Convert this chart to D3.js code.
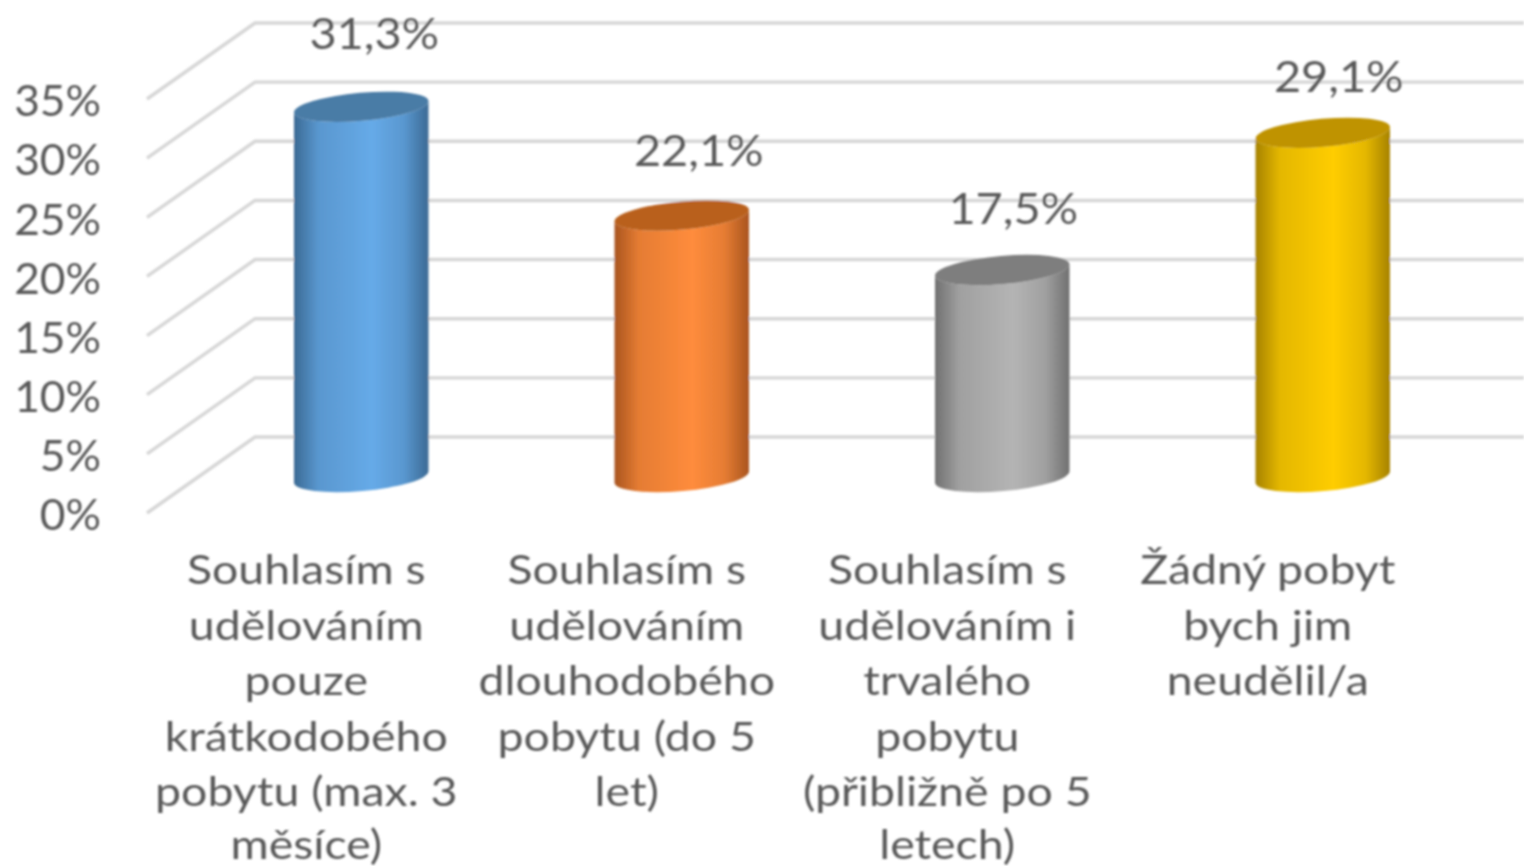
<!DOCTYPE html>
<html>
<head>
<meta charset="utf-8">
<script src="https://d3js.org/d3.v7.min.js"></script>
<style>
  html, body { margin: 0; padding: 0; background: #fff; overflow: hidden; }
  text { font-family: Lato, "Open Sans", sans-serif; fill: #595959; }
</style>
</head>
<body>
<div id="graph1"></div>
<script>
var categories = ["pouze", "dlouhodobeho", "trvaleho", "zadny"]
var values = [31.3, 22.1, 17.5, 29.1]
var valueLabels = ["31,3%", "22,1%", "17,5%", "29,1%"]
var yTicks = [0, 5, 10, 15, 20, 25, 30, 35]
var categoryLines = [
  ["Souhlasím s", "udělováním", "pouze", "krátkodobého", "pobytu (max. 3", "měsíce)"],
  ["Souhlasím s", "udělováním", "dlouhodobého", "pobytu (do 5", "let)"],
  ["Souhlasím s", "udělováním i", "trvalého", "pobytu", "(přibližně po 5", "letech)"],
  ["Žádný pobyt", "bych jim", "neudělil/a"]
]
var barEdge = ["#3b6a94", "#a9551f", "#707070", "#a68200"]
var barMid = ["#66aae8", "#ff8c3c", "#b4b4b4", "#ffcd05"]
var barTop = ["#4a7ba6", "#b9601f", "#7e7e7e", "#bf9300"]

// labels do not sit at a constant distance over the bars in the original
var labelShiftX = [13, 17, 11, 16]
var labelShiftY = [-74, -66, -62, -57]

var width = 1524, height = 866
var depth = {x: -108, y: 76}
var barShift = 40
var rx = 67.5, ry = 14, tilt = -5

var svg = d3.select("#graph1").append("svg")
  .attr("width", width)
  .attr("height", height)
  .style("display", "block")

var defs = svg.append("defs")
defs.append("filter").attr("id", "soft")
  .attr("filterUnits", "userSpaceOnUse")
  .attr("x", 0).attr("y", 0).attr("width", width).attr("height", height)
  .append("feGaussianBlur").attr("stdDeviation", 0.9)

var root = svg.append("g").attr("filter", "url(#soft)")

var y = d3.scaleLinear().domain([0, 35]).range([437, 23])
var x = d3.scaleBand().domain(categories).range([201, 1483])

// gridlines: back wall plus side wall
root.selectAll(".grid")
  .data(yTicks)
  .enter()
  .append("path")
    .attr("class", "grid")
    .attr("d", function(d) {
      return d3.line()([[255 + depth.x, y(d) + depth.y], [255, y(d)], [width, y(d)]])
    })
    .style("fill", "none")
    .style("stroke", "#d6d6d6")
    .style("stroke-width", 3.4)

// y axis sits on the front edge of the side wall
var yFront = y.copy().range([437 + depth.y, 23 + depth.y])
var axis = root.append("g")
  .attr("transform", "translate(101,3)")
  .call(d3.axisLeft(yFront).tickValues(yTicks).tickSize(0).tickPadding(0)
    .tickFormat(function(d) { return d + "%" }))
axis.select(".domain").remove()
axis.selectAll("text")
  .attr("transform", "scale(1.03,1)")
  .style("font-size", "43px")
  .style("font-family", "Lato")
  .style("fill", "#595959")

categories.forEach(function(c, i) {
  var g = defs.append("linearGradient").attr("id", "bar" + i)
    .attr("x1", "0%").attr("x2", "100%").attr("y1", "0%").attr("y2", "0%")
  g.append("stop").attr("offset", "0%").attr("stop-color", barEdge[i])
  g.append("stop").attr("offset", "18%").attr("stop-color", d3.interpolateRgb(barEdge[i], barMid[i])(0.7))
  g.append("stop").attr("offset", "58%").attr("stop-color", barMid[i])
  g.append("stop").attr("offset", "82%").attr("stop-color", d3.interpolateRgb(barEdge[i], barMid[i])(0.7))
  g.append("stop").attr("offset", "100%").attr("stop-color", barEdge[i])
})

var data = categories.map(function(c, i) { return {key: c, value: values[i], i: i} })

function corner(cx, cy, side) {
  var a = tilt * Math.PI / 180
  return [cx + side * rx * Math.cos(a), cy + side * rx * Math.sin(a)]
}

function body(d) {
  var cx = x(d.key) + x.bandwidth() / 2
  var top = y(d.value) + barShift, base = y(0) + barShift
  var tl = corner(cx, top, -1), tr = corner(cx, top, 1)
  var bl = corner(cx, base, -1), br = corner(cx, base, 1)
  var arc = "A" + rx + "," + ry + " " + tilt + " 0 "
  return "M" + tl + "L" + bl + arc + "0 " + br + "L" + tr + arc + "1 " + tl + "Z"
}

var bars = root.selectAll(".bar")
  .data(data)
  .enter()
  .append("g")
    .attr("class", "bar")

bars.append("path")
  .attr("d", body)
  .style("fill", function(d) { return "url(#bar" + d.i + ")" })

bars.append("ellipse")
  .attr("rx", rx)
  .attr("ry", ry)
  .attr("transform", function(d) {
    return "translate(" + (x(d.key) + x.bandwidth() / 2) + "," + (y(d.value) + barShift) + ") rotate(" + tilt + ")"
  })
  .style("fill", function(d) { return barTop[d.i] })

// value labels
root.selectAll(".value")
  .data(data)
  .enter()
  .append("text")
    .attr("class", "value")
    .attr("transform", function(d) {
      return "translate(" + (x(d.key) + x.bandwidth() / 2 + labelShiftX[d.i]) + "," +
        (y(d.value) + barShift + labelShiftY[d.i]) + ") scale(1.09,1)"
    })
    .attr("text-anchor", "middle")
    .attr("dominant-baseline", "central")
    .style("font-size", "43px")
    .text(function(d) { return valueLabels[d.i] })

// category labels, wrapped as in the original, wider than the font draws them
var labelGroups = root.selectAll(".cat")
  .data(data)
  .enter()
  .append("text")
    .attr("class", "cat")
    .attr("text-anchor", "middle")
    .attr("transform", function(d) {
      return "translate(" + (x(d.key) + x.bandwidth() / 2 - 55) + ",0) scale(1.147,1)"
    })
    .style("font-size", "40.5px")

labelGroups.selectAll("tspan")
  .data(function(d) {
    return categoryLines[d.i].map(function(t, k) { return {t: t, k: k} })
  })
  .enter()
  .append("tspan")
    .attr("x", 0)
    .attr("y", function(d) { return Math.min(584 + d.k * 55.6, 859) })  // last line is squeezed in at the bottom edge
    .text(function(d) { return d.t })
</script>
</body>
</html>
